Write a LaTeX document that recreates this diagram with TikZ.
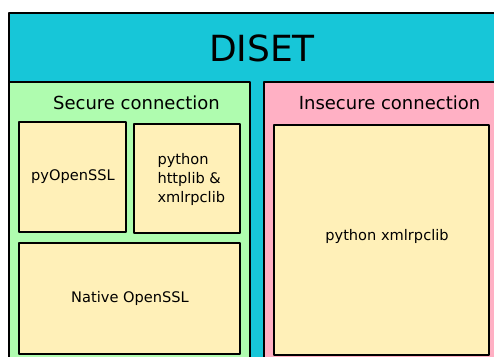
\documentclass[tikz,border=0pt]{standalone}
\usepackage{fontspec}
\setmainfont{DejaVu Sans}
\usetikzlibrary{positioning}
\definecolor{disetblue}{RGB}{23,198,216}
\definecolor{securegreen}{RGB}{175,252,175}
\definecolor{insecurepink}{RGB}{255,176,196}
\definecolor{libyellow}{RGB}{255,240,184}
\begin{document}
\begin{tikzpicture}[x=1bp,y=-1bp,line join=round,
		box/.style={draw,line width=2bp,inner sep=0pt,anchor=north west},
		lib/.style={box,fill=libyellow},
		txt/.style={inner sep=0pt,font=\fontsize{14.6bp}{19bp}\selectfont},
		head/.style={inner sep=0pt,anchor=base,font=\fontsize{18bp}{22bp}\selectfont}]
	\useasboundingbox (0,0) rectangle (494,356);
	\clip (0,0) rectangle (494,356);
	% outer frames
	\node[box,fill=disetblue,minimum width=520bp,minimum height=380bp] (diset) at (8,12) {};
	\node[box,fill=securegreen,minimum width=241bp,minimum height=300bp] (secure) at (8,81) {};
	\node[box,fill=insecurepink,minimum width=260bp,minimum height=300bp] (insecure) at (263,81) {};
	\node[inner sep=0pt,anchor=base,font=\fontsize{36bp}{43bp}\selectfont] (title) at (262,61) {DISET};
	\node[head] (securelbl) at (136.5,109.5) {Secure connection};
	\node[head] (insecurelbl) at (389.5,109.5) {Insecure connection};
	% libraries
	\node[lib,minimum width=107bp,minimum height=110bp] (pyssl) at (18,121) {};
	\node[lib,minimum width=106bp,minimum height=109bp] (httplib) at (133,123) {};
	\node[lib,minimum width=221bp,minimum height=111bp] (native) at (18,242) {};
	\node[lib,minimum width=215bp,minimum height=230bp] (xmlrpc) at (273,124) {};
	\node[txt,anchor=base] (pyssltxt) at (73,180.5) {pyOpenSSL};
	\node[txt,anchor=west,align=left] (httplibtxt) at (157.3,179.4) {python\\httplib \&\\xmlrpclib};
	\node[txt,anchor=base] (nativetxt) at (130,302.7) {Native OpenSSL};
	\node[txt,anchor=base] (xmlrpctxt) at (387,240) {python xmlrpclib};
\end{tikzpicture}
\end{document}
